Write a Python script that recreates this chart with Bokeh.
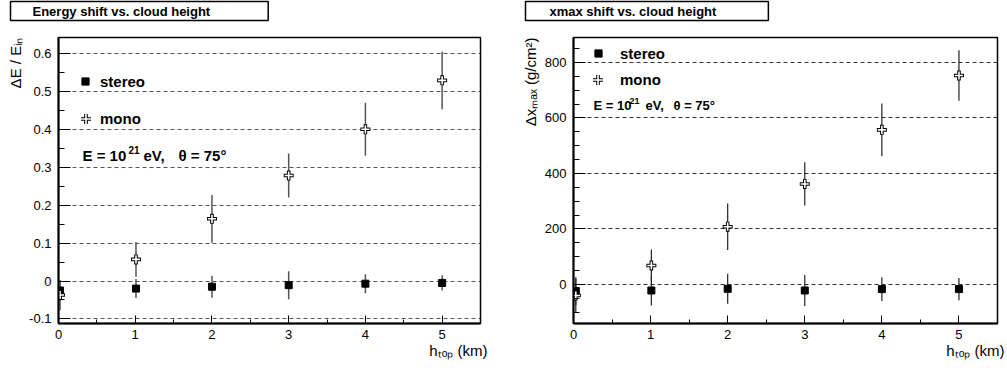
from bokeh.plotting import figure
from bokeh.models import FixedTicker, Label, Legend, LegendItem, ColumnDataSource, Title
from bokeh.core.properties import value
from bokeh.layouts import row
from bokeh.embed import file_html
from bokeh.resources import INLINE

# ---------------- data ----------------
h_top_ticks = [0, 1, 2, 3, 4, 5]
h_top_labels = ["0", "1", "2", "3", "4", "5"]

# Energy shift panel
dE_ticks = [-0.1, 0.0, 0.1, 0.2, 0.3, 0.4, 0.5, 0.6]
dE_tick_labels = ["-0.1", "0", "0.1", "0.2", "0.3", "0.4", "0.5", "0.6"]

e_stereo_h = [0.02, 1.01, 2.0, 3.0, 4.0, 5.0]
e_stereo_val = [-0.025, -0.020, -0.015, -0.011, -0.007, -0.005]
e_stereo_err = [0.027, 0.025, 0.029, 0.037, 0.025, 0.020]

e_mono_h = [0.02, 1.01, 2.0, 3.0, 4.0, 5.0]
e_mono_val = [-0.037, 0.057, 0.164, 0.278, 0.400, 0.529]
e_mono_err = [0.040, 0.046, 0.063, 0.058, 0.070, 0.076]

# Xmax shift panel
dX_ticks = [0, 200, 400, 600, 800]
dX_tick_labels = ["0", "200", "400", "600", "800"]

x_stereo_h = [0.03, 1.01, 2.0, 3.0, 4.0, 5.0]
x_stereo_val = [-24, -22, -16, -22, -17, -17]
x_stereo_err = [50, 54, 54, 56, 43, 40]

x_mono_h = [0.03, 1.01, 2.0, 3.0, 4.0, 5.0]
x_mono_val = [-40, 68, 208, 362, 557, 753]
x_mono_err = [60, 58, 84, 78, 95, 91]

FONT = "Liberation Sans"
FL = 58      # frame left inside each figure
FB = 323     # frame bottom inside each figure


def lab(p, cx, cy, text, size, bold=False, align="left", baseline="middle"):
    """Text inside the frame, canvas pixel coordinates of figure p."""
    p.add_layout(Label(x=cx, y=cy, x_units="canvas", y_units="canvas",
                       text=text, text_font=FONT, text_font_size=f"{size}px",
                       text_font_style="bold" if bold else "normal",
                       text_align=align, text_baseline=baseline,
                       text_color="black"))


def make_panel(width, right_border, yr, yticks, ylabels, yminor, grid_color,
               title, title_pad, ytitle, xtitle):
    p = figure(width=width, height=370, x_range=(0, 5.5), y_range=yr,
               min_border_left=FL, min_border_right=right_border,
               min_border_top=36, min_border_bottom=370 - FB,
               output_backend="svg", toolbar_location=None)
    p.background_fill_color = "white"
    p.border_fill_color = "white"
    p.outline_line_color = "black"
    p.outline_line_width = 1.5
    p.xgrid.visible = False
    p.xaxis.ticker = FixedTicker(ticks=h_top_ticks,
                                 minor_ticks=[t + 0.5 for t in h_top_ticks[:-1]])
    p.xaxis.major_label_overrides = dict(zip(h_top_ticks, h_top_labels))
    p.yaxis.ticker = FixedTicker(ticks=yticks, minor_ticks=yminor)
    p.yaxis.major_label_overrides = dict(zip(yticks, ylabels))
    for ax in (p.xaxis[0], p.yaxis[0]):
        ax.axis_line_width = 2
        ax.axis_line_color = "black"
        ax.major_tick_out = 0
        ax.minor_tick_out = 0
        ax.major_tick_line_color = "black"
        ax.minor_tick_line_color = "black"
        ax.major_label_text_font = FONT
        ax.major_label_text_font_size = "13px"
        ax.major_label_text_color = "black"
    p.xaxis.major_tick_in = 8
    p.xaxis.minor_tick_in = 4
    p.xaxis.major_label_standoff = 6
    p.yaxis.major_tick_in = 12
    p.yaxis.minor_tick_in = 6
    p.yaxis.major_label_standoff = 7
    p.ygrid.grid_line_color = grid_color
    p.ygrid.grid_line_dash = "4 3"
    p.ygrid.grid_line_width = 1

    # thin spacer between the frame and the boxed title
    p.add_layout(Title(text=" ", standoff=13, text_font=FONT,
                       text_font_size="1px", text_color="white"), "above")
    # boxed title above the frame
    p.add_layout(Title(text=title, align="left", offset=-48, standoff=0,
                       vertical_align="middle", text_font=FONT,
                       text_font_size="13px", text_font_style="bold",
                       text_color="black", padding=title_pad,
                       background_fill_color="white", border_line_color="black",
                       border_line_width=1.5), "above")
    # y axis title, aligned with the top end of the axis
    p.add_layout(Title(text=ytitle, align="right", offset=0, standoff=6,
                       vertical_align="bottom", text_font=FONT,
                       text_font_size="15px", text_font_style="normal",
                       text_color="black"), "left")
    # x axis title, aligned with the right end of the axis
    p.add_layout(Title(text=xtitle, align="right", offset=-7, standoff=0,
                       vertical_align="top", text_font=FONT,
                       text_font_size="15px", text_font_style="normal",
                       text_color="black"), "below")
    return p


def add_series(p, h_s, v_s, e_s, h_m, v_m, e_m, err_color, err_width):
    src_s = ColumnDataSource(dict(x=h_s, y=v_s,
                                  lo=[v - e for v, e in zip(v_s, e_s)],
                                  hi=[v + e for v, e in zip(v_s, e_s)]))
    src_m = ColumnDataSource(dict(x=h_m, y=v_m,
                                  lo=[v - e for v, e in zip(v_m, e_m)],
                                  hi=[v + e for v, e in zip(v_m, e_m)]))
    p.segment(x0="x", y0="lo", x1="x", y1="hi", source=src_s,
              line_color=err_color, line_width=err_width)
    p.segment(x0="x", y0="lo", x1="x", y1="hi", source=src_m,
              line_color=err_color, line_width=err_width)
    r_sq = p.scatter(x="x", y="y", source=src_s, marker="square", size=7,
                     fill_color="black", line_color="black")
    r_out = p.scatter(x="x", y="y", source=src_m, marker="cross", size=10,
                      line_color="black", line_width=3.6)
    r_in = p.scatter(x="x", y="y", source=src_m, marker="cross", size=8.2,
                     line_color="white", line_width=1.6)
    return r_sq, r_out, r_in


def one_legend(p, label, renderers, loc, glyph, standoff):
    leg = Legend(items=[LegendItem(label=value(label), renderers=renderers)],
                 location=loc, orientation="vertical", spacing=0,
                 padding=0, margin=0, glyph_width=glyph, glyph_height=glyph,
                 label_height=20, label_standoff=standoff,
                 label_text_font=FONT, label_text_font_size="15px",
                 label_text_font_style="bold", label_text_color="black",
                 border_line_alpha=0, background_fill_alpha=0)
    p.add_layout(leg)


# ---------------- left panel ----------------
p1 = make_panel(515, 35, (-0.112, 0.642), dE_ticks, dE_tick_labels,
                [round(t + 0.05, 2) for t in dE_ticks[:-1]], "#555555",
                "Energy shift vs. cloud height",
                dict(left=22, right=58, top=2, bottom=2),
                "\u0394E / E\u1d62\u2099", "h\u209c\u2092\u209a (km)")
r_sq, r_out, r_in = add_series(p1, e_stereo_h, e_stereo_val, e_stereo_err,
                               e_mono_h, e_mono_val, e_mono_err, "#555555", 1.5)
one_legend(p1, "stereo", [r_sq], (18, 232), 18, 6)
one_legend(p1, "mono", [r_out, r_in], (15, 192), 25, 2)
lab(p1, 82, 155, "E = 10", 15, bold=True)
lab(p1, 128, 149, "21", 10, bold=True)
lab(p1, 143, 155, "eV,", 15, bold=True)
lab(p1, 178, 155, "\u03b8 = 75\u00b0", 15, bold=True)

# ---------------- right panel ----------------
OFF = 515
p2 = make_panel(492, 10, (-141, 890), dX_ticks, dX_tick_labels,
                [v for v in range(-100, 851, 50) if v % 200 != 0], "#333333",
                "xmax shift vs. cloud height",
                dict(left=24, right=52, top=2, bottom=2),
                "\u0394x\u2098\u2090\u2093 (g/cm\u00b2)", "h\u209c\u2092\u209a (km)")
r_sq2, r_out2, r_in2 = add_series(p2, x_stereo_h, x_stereo_val, x_stereo_err,
                                  x_mono_h, x_mono_val, x_mono_err, "#222222", 1.2)
one_legend(p2, "stereo", [r_sq2], (16, 260), 18, 13)
one_legend(p2, "mono", [r_out2, r_in2], (12, 231), 25, 10)
lab(p2, 593 - OFF, 105, "E = 10", 13, bold=True)
lab(p2, 629 - OFF, 100, "21", 9, bold=True)
lab(p2, 645 - OFF, 105, "eV,", 13, bold=True)
lab(p2, 673 - OFF, 105, "\u03b8 = 75\u00b0", 13, bold=True)

layout = row(p1, p2)
open("out.html", "w").write(file_html(layout, INLINE))
